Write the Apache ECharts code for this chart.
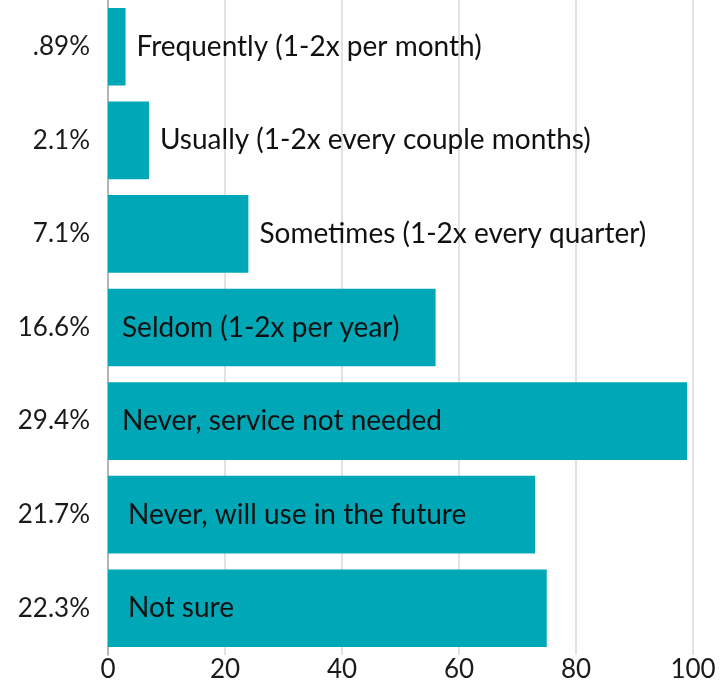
<!DOCTYPE html>
<html>
<head>
<meta charset="utf-8">
<script src="https://cdn.jsdelivr.net/npm/echarts@6/dist/echarts.min.js"></script>
<style>
  html, body { margin: 0; padding: 0; background: #ffffff; }
  #chart { width: 725px; height: 688px; }
</style>
</head>
<body>
<div id="chart"></div>
<script>
// Survey responses: how often the service is used
const categories = [
  'Frequently (1-2x per month)',
  'Usually (1-2x every couple months)',
  'Sometimes (1-2x every quarter)',
  'Seldom (1-2x per year)',
  'Never, service not needed',
  'Never, will use in the future',
  'Not sure'
];
const counts = [3, 7, 24, 56, 99, 73, 75];
const shares = ['.89%', '2.1%', '7.1%', '16.6%', '29.4%', '21.7%', '22.3%'];
const xTicks = [0, 20, 40, 60, 80, 100];

const FONT = 'Lato';
const BAR = '#00A8B7';

// Short bars carry their name outside; long bars carry it inside
const seriesData = counts.map((v, i) => {
  const outside = v < 30;
  return {
    value: v,
    label: {
      position: outside ? 'right' : 'insideLeft',
      distance: outside ? 11 : (i >= 5 ? 20 : 14)
    }
  };
});

const chart = echarts.init(document.getElementById('chart'), null, { renderer: 'canvas' });
chart.setOption({
  animation: false,
  backgroundColor: '#ffffff',
  grid: { left: 108, right: 32, top: 0, bottom: 33, containLabel: false },
  xAxis: {
    type: 'value',
    min: 0,
    max: 100,
    interval: 20,
    axisLine: { show: false },
    axisTick: { show: false },
    splitLine: { show: true, lineStyle: { color: '#d9d9d9', width: 1.5 } },
    axisLabel: {
      color: '#1a1a1a',
      fontFamily: FONT,
      fontSize: 26,
      margin: 2,
      formatter: v => (xTicks.includes(v) ? String(v) : '')
    }
  },
  yAxis: {
    type: 'category',
    inverse: true,
    data: shares,
    axisLine: { show: true, lineStyle: { color: '#a6a6a6', width: 1.5 } },
    axisTick: { show: false },
    axisLabel: {
      color: '#1a1a1a',
      fontFamily: FONT,
      fontSize: 26,
      margin: 18
    }
  },
  series: [{
    type: 'bar',
    data: seriesData,
    barCategoryGap: '17%',
    itemStyle: { color: BAR },
    label: {
      show: true,
      color: '#111111',
      fontFamily: FONT,
      fontSize: 28,
      formatter: p => categories[p.dataIndex]
    }
  }]
});
</script>
</body>
</html>
